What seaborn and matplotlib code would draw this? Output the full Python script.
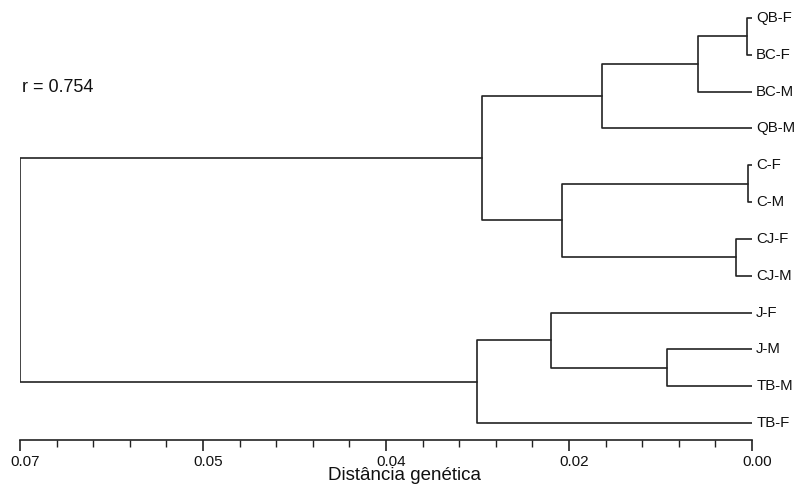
import numpy as np
import pandas as pd
import matplotlib
matplotlib.use("Agg")
import matplotlib.pyplot as plt
import matplotlib.transforms as mtrans
import seaborn as sns

# ---- data ----
leaves = ["QB-F", "BC-F", "BC-M", "QB-M", "C-F", "C-M",
          "CJ-F", "CJ-M", "J-F", "J-M", "TB-M", "TB-F"]
merge_a = ["QB-F", "n0", "n1", "C-F", "CJ-F", "n3", "n2", "J-M", "J-F", "n8", "n6"]
merge_b = ["BC-F", "BC-M", "QB-M", "C-M", "CJ-M", "n4", "n5", "TB-M", "n7", "TB-F", "n9"]
merge_h = [0.0005, 0.0052, 0.0143, 0.0004, 0.0015, 0.0182, 0.0258,
           0.0081, 0.0192, 0.0263, 0.07]
tick_values = [0.07, 0.0525, 0.035, 0.0175, 0.0]
tick_labels = ["0.07", "0.05", "0.04", "0.02", "0.00"]
r_text = "r = 0.754"
xlabel = "Distância genética"

# ---- build segments ----
pos = {name: (0.0, i) for i, name in enumerate(leaves)}
rows = []
for k, (a, b, h) in enumerate(zip(merge_a, merge_b, merge_h)):
    xa, ya = pos[a]
    xb, yb = pos[b]
    pts = [(xa, ya), (h, ya), (h, yb), (xb, yb)]
    for j, (x, y) in enumerate(pts):
        rows.append({"seg": k, "order": j, "x": x, "y": y})
    pos[f"n{k}"] = (h, (ya + yb) / 2)
df = pd.DataFrame(rows)

sns.set_theme(style="white")
plt.rcParams["font.family"] = ["Liberation Sans", "DejaVu Sans"]

W, H = 795, 488
fig = plt.figure(figsize=(W / 100, H / 100), dpi=100)
ax = fig.add_axes([20 / W, (H - 440) / H, (752 - 20) / W, (440 - 5) / H])

sns.lineplot(data=df, x="x", y="y", units="seg", estimator=None, sort=False,
             color="#222222", linewidth=1.2, ax=ax, legend=False)

ax.set_xlim(0.07, 0.0)
sp = 36.8
ax.set_ylim(len(leaves) - 1 + 17 / sp, -13 / sp)

for i, name in enumerate(leaves):
    ax.annotate(name, xy=(0.0, i), xytext=(3, 0), textcoords="offset points",
                ha="left", va="center", fontsize=10.8, color="#111111",
                annotation_clip=False)

for s in ["left", "top", "right"]:
    ax.spines[s].set_visible(False)
ax.spines["bottom"].set_color("#222222")
ax.spines["bottom"].set_linewidth(1.2)
ax.set_yticks([])
ax.set_xticks(tick_values)
ax.set_xticklabels(tick_labels)
minor = [v for v in np.arange(0, 0.07 + 1e-9, 0.0035)
         if min(abs(v - t) for t in tick_values) > 1e-6]
ax.set_xticks(minor, minor=True)
ax.tick_params(axis="x", which="major", direction="out", length=8, width=1.2,
               color="#222222", labelsize=11, pad=2.5, bottom=True,
               labelcolor="#111111")
ax.tick_params(axis="x", which="minor", direction="out", length=5, width=1.0,
               color="#222222", bottom=True)
shift = mtrans.ScaledTranslation(5 / 100, 0, fig.dpi_scale_trans)
for lab in ax.get_xticklabels():
    lab.set_transform(lab.get_transform() + shift)
ax.set_xlabel("")
ax.set_ylabel("")

fig.text(405 / W, 1 - 476 / H, xlabel, ha="center", va="center", fontsize=13.5,
         color="#111111")
fig.text(22 / W, 1 - 88 / H, r_text, ha="left", va="center", fontsize=13,
         color="#111111")

fig.savefig("out.png", dpi=100, facecolor="white")
